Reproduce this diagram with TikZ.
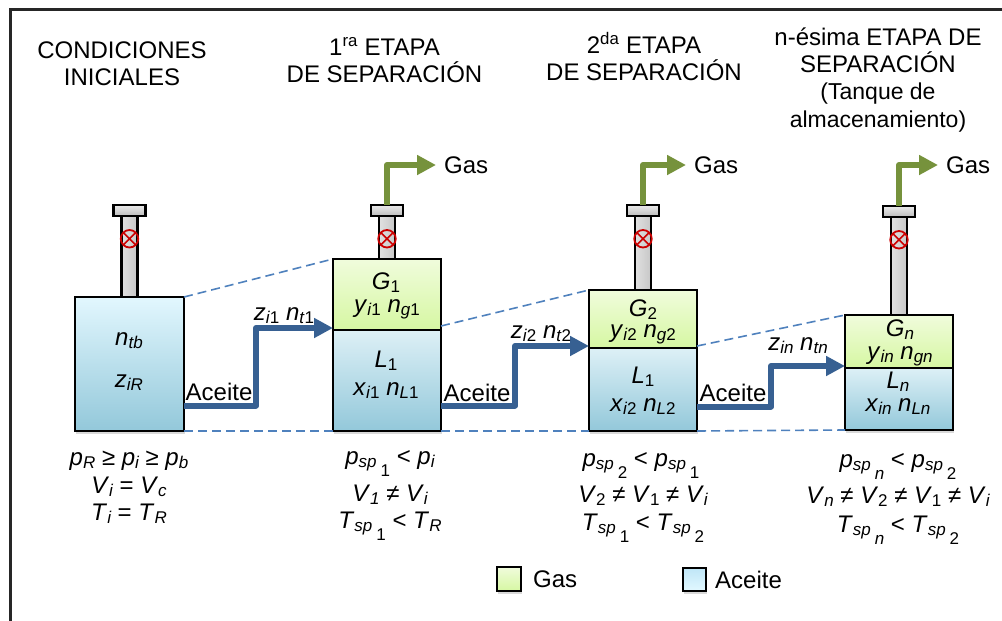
\documentclass[tikz,border=0pt]{standalone}
\usepackage{fontspec}
\setmainfont{Liberation Sans}
\usepackage{tikz}
\usetikzlibrary{
        arrows.meta,
        positioning,
        shadows
    }
\definecolor{gastop}{HTML}{F0FCDC}
\definecolor{gasbot}{HTML}{D6F7A2}
\definecolor{oiltop}{HTML}{DDF0F6}
\definecolor{oilbot}{HTML}{93C8DA}
\definecolor{restop}{HTML}{E2F7FE}
\definecolor{keytop}{HTML}{BFE6F7}
\definecolor{keybot}{HTML}{E2F8FF}
\definecolor{oilline}{HTML}{376092}
\definecolor{gasline}{HTML}{76923C}
\definecolor{dashline}{HTML}{4F81BD}
\definecolor{valvered}{HTML}{CC0000}
\newcommand{\subv}[2]{\textit{#1}\raisebox{-.16em}{\fontsize{17}{17}\selectfont\itshape #2}}
\newcommand{\spv}[2]{\subv{#1}{sp}\,\raisebox{-.5em}{\fontsize{17}{17}\selectfont #2}}
\tikzset{>={Triangle[length=19pt,width=19pt]},x=1pt,y=-1pt,node distance=0pt}
\tikzset{
    txt/.style={inner sep=0pt,align=center,font=\fontsize{24}{27}\selectfont},
    val/.style={txt,anchor=base},
    phase/.style={draw=black,line width=2.6pt,outer sep=0pt,inner sep=0pt,minimum width=108pt},
    gasphase/.style={phase,top color=gastop,bottom color=gasbot},
    oilphase/.style={phase,top color=oiltop,bottom color=oilbot},
    tankshadow/.style={drop shadow={shadow xshift=1pt,shadow yshift=-2.5pt,opacity=.3}},
    tankstem/.style={draw=black,line width=2.7pt,outer sep=0pt,inner sep=0pt,minimum width=16pt,left color=black!12,right color=black!22},
    stemcap/.style={draw=black,line width=2.2pt,outer sep=0pt,inner sep=0pt,minimum width=32pt,minimum height=11pt,top color=black!8,bottom color=black!26},
    valve/.style={circle,draw=valvered,line width=1.8pt,inner sep=0pt,minimum size=17.5pt,outer sep=0pt,
        path picture={\draw[valvered,line width=1.6pt] (path picture bounding box.north west) -- (path picture bounding box.south east)
            (path picture bounding box.north east) -- (path picture bounding box.south west);}},
    oilflow/.style={->,oilline,line width=6pt,line join=round},
    gasflow/.style={->,gasline,line width=6pt,line join=round},
    guide/.style={dashline,line width=1.6pt,dash pattern=on 9pt off 5pt}
}

\begin{document}
\begin{tikzpicture}
    \useasboundingbox (0,0) rectangle (1002,621);
    \draw[line width=3pt,black!85] (10,621) -- (10,9) -- (1002,9);

    \node[txt] (title0) at (122,63.5) {CONDICIONES\\INICIALES};
    \node[txt] (title1) at (384.5,60) {1\textsuperscript{ra} ETAPA\\DE SEPARACIÓN};
    \node[txt] (title2) at (644,57) {2\textsuperscript{da} ETAPA\\DE SEPARACIÓN};
    \node[txt] (titlen) at (878,80) {n-ésima ETAPA DE\\SEPARACIÓN\\[.5pt]{\fontsize{23}{27}\selectfont (Tanque de}\\[.5pt]{\fontsize{23}{27}\selectfont almacenamiento)}};

    \node[oilphase,tankshadow,anchor=north west,minimum width=109pt,minimum height=134pt,top color=restop] (tank0) at (75,297) {};
    \node[gasphase,tankshadow,anchor=north west,minimum height=71pt] (gas1) at (333,259) {};
    \node[oilphase,tankshadow,minimum height=101pt] (oil1) [below=of gas1] {};
    \node[gasphase,tankshadow,anchor=north west,minimum height=58pt] (gas2) at (589,290) {};
    \node[oilphase,tankshadow,minimum height=83pt] (oil2) [below=of gas2] {};
    \node[gasphase,tankshadow,anchor=north west,minimum height=53pt] (gasn) at (845,315) {};
    \node[oilphase,tankshadow,minimum height=62pt] (oiln) [below=of gasn] {};

    \node[tankstem,minimum height=81pt] (stem0) [above=of tank0] {};
    \node[stemcap] (cap0) [above=of stem0] {};
    \node[valve] (valve0) [below=14pt of cap0] {};
    \node[tankstem,minimum height=43pt] (stem1) [above=of gas1] {};
    \node[stemcap] (cap1) [above=of stem1] {};
    \node[valve] (valve1) [below=14pt of cap1] {};
    \node[tankstem,minimum height=74pt] (stem2) [above=of gas2] {};
    \node[stemcap] (cap2) [above=of stem2] {};
    \node[valve] (valve2) [below=14pt of cap2] {};
    \node[tankstem,minimum height=98pt] (stemn) [above=of gasn] {};
    \node[stemcap] (capn) [above=of stemn] {};
    \node[valve] (valven) [below=14pt of capn] {};

    \node[val] (ntb) at (129,345) {\subv{n}{tb}};
    \node[val] (zir) at (129,387) {\subv{z}{iR}};
    \node[val] (g1) at (386,289) {\subv{G}{\textup{1}}};
    \node[val] (yn1) at (387,312) {\subv{y}{i\textup{1}} \subv{n}{g\textup{1}}};
    \node[val] (l1) at (386,367) {\subv{L}{\textup{1}}};
    \node[val] (xn1) at (386,395) {\subv{x}{i\textup{1}} \subv{n}{L\textup{1}}};
    \node[val] (g2) at (643,316) {\subv{G}{\textup{2}}};
    \node[val] (yn2) at (643,337) {\subv{y}{i\textup{2}} \subv{n}{g\textup{2}}};
    \node[val] (l2) at (643,383) {\subv{L}{\textup{1}}};
    \node[val] (xn2) at (643,411) {\subv{x}{i\textup{2}} \subv{n}{L\textup{2}}};
    \node[val] (gn) at (900,336) {\subv{G}{n}};
    \node[val] (ynn) at (900,359) {\subv{y}{in} \subv{n}{gn}};
    \node[val] (ln) at (898,388) {\subv{L}{n}};
    \node[val] (xnn) at (898,411) {\subv{x}{in} \subv{n}{Ln}};

    \node[txt,anchor=west] (gasout1) at (444,165) {Gas};
    \node[txt,anchor=west] (gasout2) at (694,165) {Gas};
    \node[txt,anchor=west] (gasoutn) at (946,165) {Gas};
    \coordinate (tip1) at (436,165);
    \coordinate (tip2) at (686,165);
    \coordinate (tipn) at (938,165);
    \draw[gasflow] (cap1.north) |- (tip1);
    \draw[gasflow] (cap2.north) |- (tip2);
    \draw[gasflow] (capn.north) |- (tipn);

    \coordinate (out0) at (184,405.5);
    \coordinate (out1) at (441,405.5);
    \coordinate (out2) at (697,406.5);
    \draw[oilflow] (out0) -- ++(72,0) |- ([yshift=2pt]oil1.north west);
    \draw[oilflow] (out1) -- ++(74,0) |- ([yshift=2pt]oil2.north west);
    \draw[oilflow] (out2) -- ++(74,0) |- ([yshift=2pt]oiln.north west);
    \node[txt] (aceite0) at (219,392) {Aceite};
    \node[txt] (aceite1) at (477,393) {Aceite};
    \node[txt] (aceite2) at (733,393) {Aceite};
    \node[val] (zn1) at (284,320) {\subv{z}{i\textup{1}} \subv{n}{t\textup{1}}};
    \node[val] (zn2) at (541,338) {\subv{z}{i\textup{2}} \subv{n}{t\textup{2}}};
    \node[val] (znn) at (798,350) {\subv{z}{in} \subv{n}{tn}};

    \draw[guide] (tank0.north east) -- (gas1.north west);
    \draw[guide] (tank0.south east) -- (oil1.south west);
    \draw[guide] ([yshift=4pt]gas1.south east) -- (gas2.north west);
    \draw[guide] (oil1.south east) -- (oil2.south west);
    \draw[guide] ([yshift=2pt]gas2.south east) -- (gasn.north west);
    \draw[guide] (oil2.south east) -- (oiln.south west);

    \node[val] (cond0a) at (129,465) {\subv{p}{R} ≥ \subv{p}{i} ≥ \subv{p}{b}};
    \node[val] (cond0b) at (129,493) {\subv{V}{i} = \subv{V}{c}};
    \node[val] (cond0c) at (129,520) {\subv{T}{i} = \subv{T}{R}};
    \node[val] (cond1a) at (390,464) {\spv{p}{1} < \subv{p}{i}};
    \node[val] (cond1b) at (390,501) {\subv{V}{1} ≠ \subv{V}{i}};
    \node[val] (cond1c) at (390,528) {\spv{T}{1} < \subv{T}{R}};
    \node[val] (cond2a) at (641,466) {\spv{p}{2} < \spv{p}{1}};
    \node[val] (cond2b) at (643,502) {\subv{V}{\textup{2}} ≠ \subv{V}{\textup{1}} ≠ \subv{V}{i}};
    \node[val] (cond2c) at (643,530) {\spv{T}{1} < \spv{T}{2}};
    \node[val] (condna) at (898,467) {\spv{p}{\textit{n}} < \spv{p}{2}};
    \node[val] (condnb) at (898,503) {\subv{V}{n} ≠ \subv{V}{\textup{2}} ≠ \subv{V}{\textup{1}} ≠ \subv{V}{i}};
    \node[val] (condnc) at (898,532) {\spv{T}{\textit{n}} < \spv{T}{2}};

    \node[gasphase,tankshadow,minimum width=24pt,minimum height=24pt] (keygas) at (509,579) {};
    \node[txt,anchor=west] (keygastxt) [right=12pt of keygas] {Gas};
    \node[oilphase,tankshadow,minimum width=23pt,minimum height=23pt,top color=keytop,bottom color=keybot] (keyoil) at (694.5,579.5) {};
    \node[txt,anchor=west] (keyoiltxt) [right=9pt of keyoil] {Aceite};
\end{tikzpicture}
\end{document}
